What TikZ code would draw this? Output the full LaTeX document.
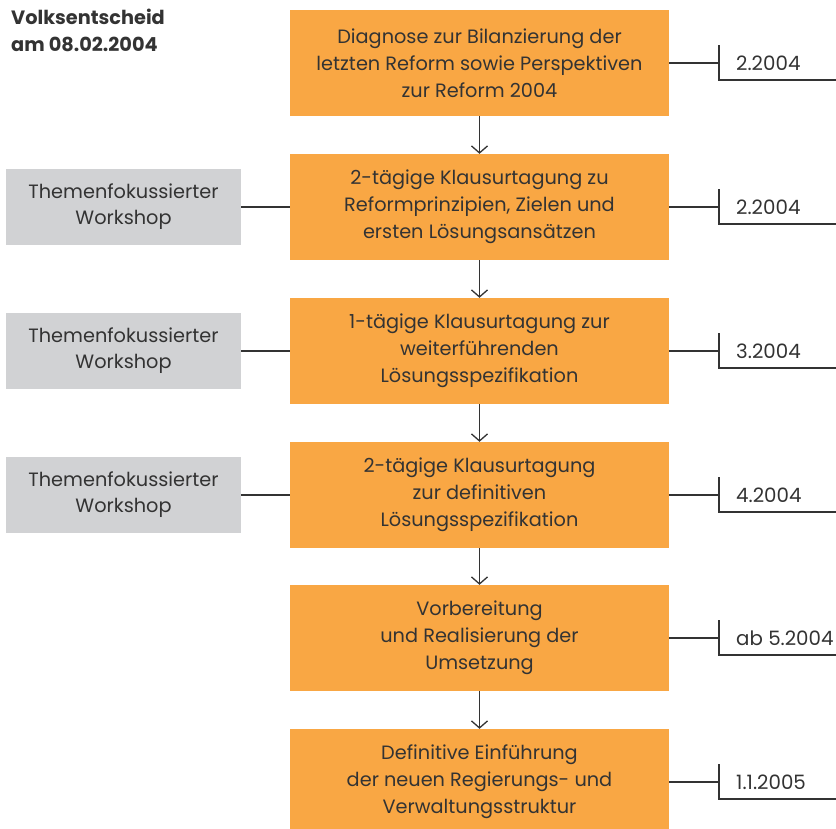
\documentclass[tikz,border=0pt]{standalone}
\usepackage{fontspec}
\setmainfont{Poppins}
\usetikzlibrary{arrows.meta}
\definecolor{boxorange}{HTML}{F9A744}
\definecolor{boxgray}{HTML}{D1D2D4}
\definecolor{ink}{HTML}{333333}
\tikzset{
  x=1pt,y=-1pt,
  stepbox/.style={fill=boxorange,draw=none,minimum width=379pt,minimum height=106pt,
    align=center,text=ink,font=\fontsize{19.3}{27}\selectfont,inner sep=0pt},
  wsbox/.style={fill=boxgray,draw=none,minimum width=235pt,minimum height=76pt,
    align=center,text=ink,font=\fontsize{19.3}{26}\selectfont,inner sep=0pt},
  datelbl/.style={anchor=west,text=ink,font=\fontsize{19.8}{22}\selectfont,inner sep=0pt},
  conn/.style={draw=ink,line width=1.3pt},
  flow/.style={draw=ink,line width=1.3pt,-{Straight Barb[length=7pt,width=16pt,line width=1.3pt]}},
}
\begin{document}
\begin{tikzpicture}
\useasboundingbox (0,0) rectangle (836,829);
% title
\node[anchor=north west,align=left,text=ink,font=\fontsize{19.3}{27}\selectfont\bfseries,inner sep=0pt] (title) at (11,9) {Volksentscheid\\am 08.02.2004};
% step boxes
\node[stepbox] (o1) at (479.5,63) {Diagnose zur Bilanzierung der\\letzten Reform sowie Perspektiven\\zur Reform 2004};
\node[stepbox] (o2) at (479.5,207) {2-tägige Klausurtagung zu\\Reformprinzipien, Zielen und\\ersten Lösungsansätzen};
\node[stepbox] (o3) at (479.5,351) {1-tägige Klausurtagung zur\\weiterführenden\\Lösungsspezifikation};
\node[stepbox] (o4) at (479.5,495) {2-tägige Klausurtagung\\zur definitiven\\Lösungsspezifikation};
\node[stepbox] (o5) at (479.5,638) {Vorbereitung\\und Realisierung der\\Umsetzung};
\node[stepbox] (o6) at (479.5,782) {Definitive Einführung\\der neuen Regierungs- und\\Verwaltungsstruktur};
% arrows
\foreach \a/\b in {o1/o2,o2/o3,o3/o4,o4/o5,o5/o6}
  \draw[flow] (\a.south) -- (\b.north);
% workshops
\node[wsbox] (g2) at (123.5,207) {Themenfokussierter\\Workshop};
\node[wsbox] (g3) at (123.5,351) {Themenfokussierter\\Workshop};
\node[wsbox] (g4) at (123.5,495) {Themenfokussierter\\Workshop};
\draw[conn] (g2.east) -- (o2.west);
\draw[conn] (g3.east) -- (o3.west);
\draw[conn] (g4.east) -- (o4.west);
% dates
\foreach \i/\c/\t in {1/63/2.2004,2/207/2.2004,3/351/3.2004,4/495/4.2004,5/638/ab 5.2004,6/782/1.1.2005}{
  \coordinate (t\i) at (719,\c);
  \draw[conn] (o\i.east) -- (t\i);
  \draw[conn,line cap=rect] (719,\c-17) -- (719,\c+17) -- (836,\c+17);
  \node[datelbl] (d\i) at (736,\c) {\t};
}
\end{tikzpicture}
\end{document}
